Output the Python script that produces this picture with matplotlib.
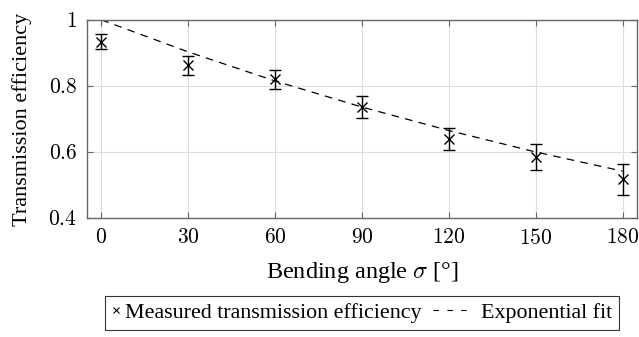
import matplotlib
matplotlib.use("Agg")
import matplotlib.pyplot as plt
from matplotlib.lines import Line2D
from matplotlib.legend_handler import HandlerBase

plt.rcParams["font.family"] = ["Liberation Serif", "DejaVu Serif"]
plt.rcParams["mathtext.fontset"] = "cm"
plt.rcParams["lines.scale_dashes"] = False

# measured data
angles = [0, 30, 60, 90, 120, 150, 180]
efficiency = [0.934, 0.863, 0.820, 0.737, 0.640, 0.584, 0.517]
err = [0.022, 0.029, 0.028, 0.034, 0.034, 0.040, 0.048]

# exponential fit, read at the measured angles
fit_vals = [1.0, 0.903, 0.815, 0.736, 0.665, 0.600, 0.542]

yticks = [0.4, 0.6, 0.8, 1.0]
ytick_labels = ["0.4", "0.6", "0.8", "1"]


class DashHandler(HandlerBase):
    # dashed sample drawn to the left of the short handle box
    def create_artists(self, legend, orig, xdescent, ydescent, width,
                       height, fontsize, trans):
        y = height / 2 - ydescent
        x1 = -xdescent + width - 7.6
        ln = Line2D([x1 - 24, x1], [y, y], color="black", lw=0.8,
                    dashes=(4, 6))
        ln.set_transform(trans)
        return [ln]


fig = plt.figure(figsize=(6.39, 3.37), dpi=100)
ax = fig.add_axes([0.136, 0.353, 0.861, 0.588])

ax.errorbar(angles, efficiency, yerr=err, fmt="x", color="black",
            markersize=7, mew=1.0, capsize=4, elinewidth=1.0, capthick=1.0)
ax.plot(angles, fit_vals, color="black", lw=0.9, dashes=(5.5, 4.5))

ax.set_xlim(-5, 185)
ax.set_ylim(0.4, 1.0)
ax.set_xticks(angles)
ax.set_xticklabels([f"${a}$" for a in angles])
ax.set_yticks(yticks)
ax.set_yticklabels([f"${t}$" for t in ytick_labels])
ax.grid(True, color="#dddddd", lw=0.8)
ax.set_axisbelow(True)
ax.tick_params(direction="in", top=True, right=True, labelsize=15.5,
               color="#666666", length=4)
ax.tick_params(axis="x", pad=8)
ax.tick_params(axis="y", pad=7)
for s in ax.spines.values():
    s.set_color("#666666")
    s.set_linewidth(1.0)

ax.set_xlabel(r"Bending angle $\sigma$ [°]", fontsize=17.5, labelpad=8)
ax.set_ylabel("Transmission efficiency", fontsize=16, labelpad=12)

meas_handle = Line2D([], [], ls="none", marker="x", color="black",
                     markersize=4.5, mew=0.8)
fit_handle = Line2D([], [], color="black")
leg = ax.legend([meas_handle, fit_handle],
                ["Measured transmission efficiency", "Exponential fit"],
                handler_map={fit_handle: DashHandler()},
                loc="upper center", bbox_to_anchor=(0.5, -0.394), ncol=2,
                fontsize=15.8, frameon=True, fancybox=False,
                edgecolor="black", handlelength=0.4, handletextpad=0.2,
                columnspacing=2.12, borderpad=0.3, borderaxespad=0)
leg.get_frame().set_linewidth(0.8)

fig.savefig("out.png", dpi=100)
